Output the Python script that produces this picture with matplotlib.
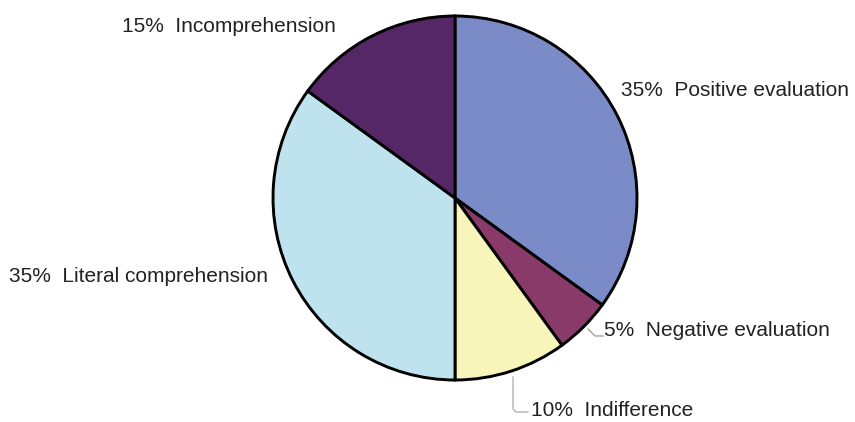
import matplotlib
matplotlib.use("Agg")
import matplotlib.pyplot as plt

categories = ["Positive evaluation", "Negative evaluation", "Indifference",
              "Literal comprehension", "Incomprehension"]
values = [35, 5, 10, 35, 15]
colors = ["#7b8bc7", "#8a3a69", "#f7f5b9", "#bee3ee", "#562767"]

W, H = 855, 422
fig = plt.figure(figsize=(W / 100, H / 100), dpi=100)
ax = fig.add_axes([0, 0, 1, 1])

def Y(y):
    return H - y

cx, cy, r = 455, 198, 182
ax.pie(values, colors=colors, startangle=90, counterclock=False,
       center=(cx, Y(cy)), radius=r,
       wedgeprops=dict(edgecolor="black", linewidth=2.1), frame=True)
ax.set_xlim(0, W)
ax.set_ylim(0, H)
ax.set_aspect("equal")
ax.axis("off")

font = dict(family="Liberation Sans", fontsize=15, color="#222222", va="center")
labels = [f"{v}%  {c}" for v, c in zip(values, categories)]
ax.text(621, Y(91), labels[0], ha="left", **font)
ax.text(604, Y(330), labels[1], ha="left", **font)
ax.text(531, Y(411), labels[2], ha="left", **font)
ax.text(9, Y(277), labels[3], ha="left", **font)
ax.text(122, Y(27), labels[4], ha="left", **font)

# leader lines
ax.plot([588, 595, 603], [Y(329), Y(336), Y(336)], color="#999999", lw=0.9)
ax.plot([513, 513, 516, 528], [Y(377), Y(409), Y(412), Y(412)], color="#aaaaaa", lw=0.9)

fig.savefig("out.png", dpi=100)
